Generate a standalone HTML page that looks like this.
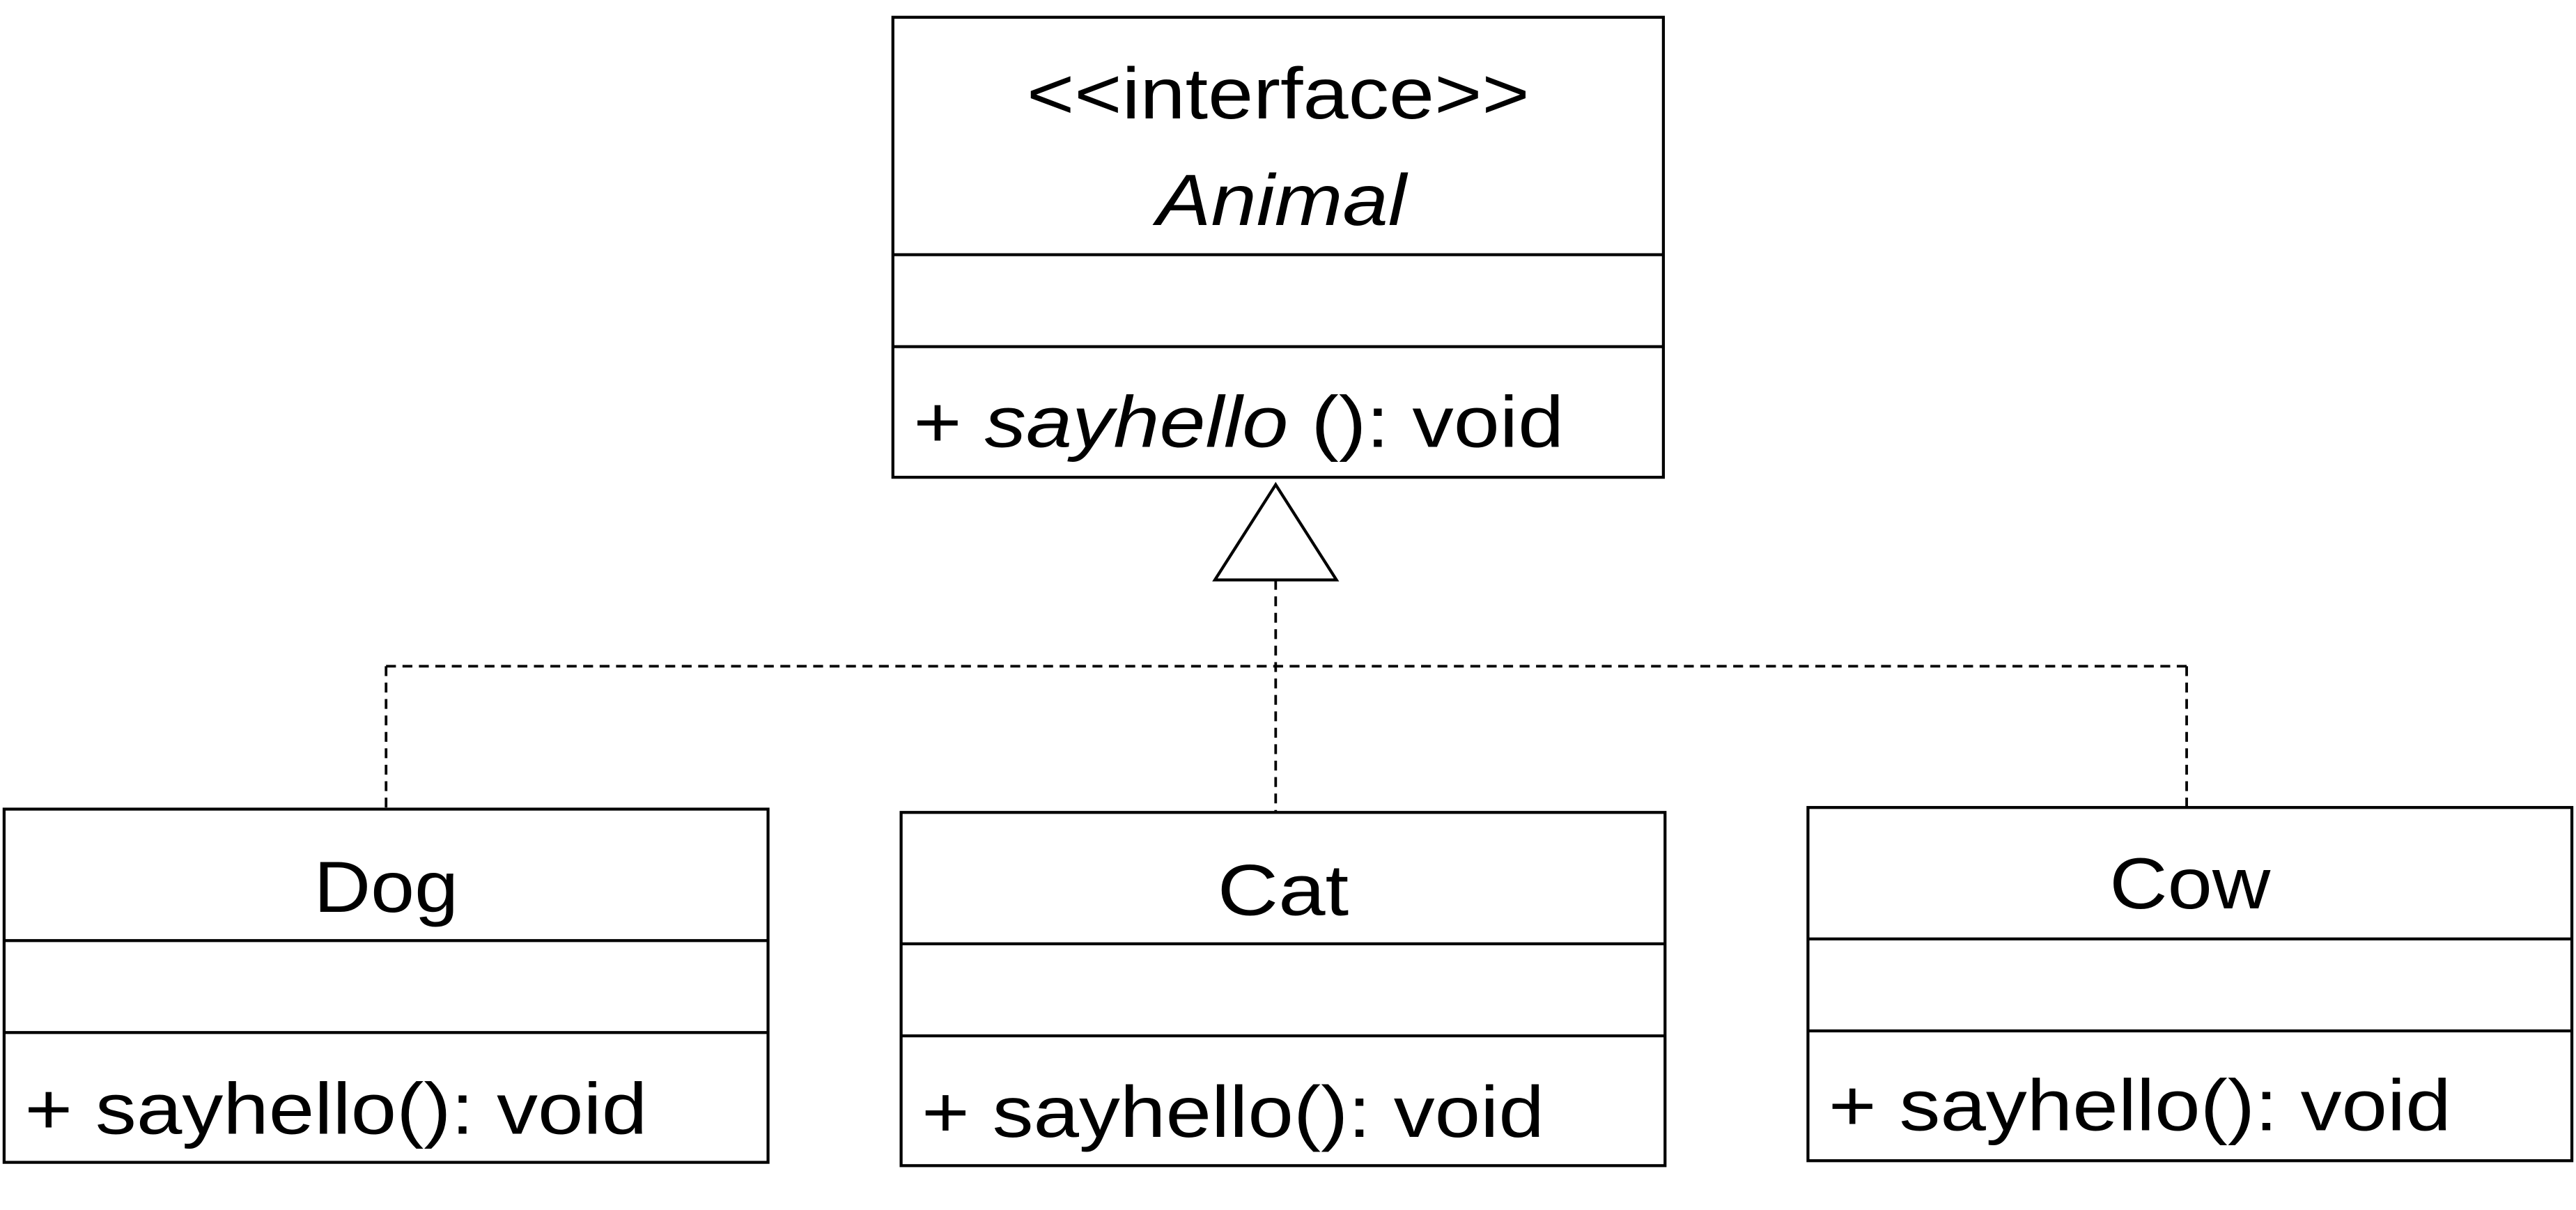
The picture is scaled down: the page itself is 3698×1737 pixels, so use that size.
<!DOCTYPE html>
<html><head><meta charset="utf-8"><style>
html,body{margin:0;padding:0;background:#fff;}
svg{display:block;}
text{font-family:"Liberation Sans","Noto Sans CJK JP",sans-serif;fill:#000;}
</style></head><body>
<svg width="3698" height="1737" viewBox="0 0 1568 736.5" xmlns="http://www.w3.org/2000/svg">
<g fill="none" stroke="#000" stroke-width="1.8">
<rect x="543.5" y="10.5" width="469" height="280"/>
<line x1="543.5" y1="155" x2="1012.5" y2="155"/>
<line x1="543.5" y1="211" x2="1012.5" y2="211"/>
<rect x="2.5" y="492.5" width="465" height="215"/>
<line x1="2.5" y1="572.5" x2="467.5" y2="572.5"/>
<line x1="2.5" y1="628.5" x2="467.5" y2="628.5"/>
<rect x="548.5" y="494.5" width="465" height="215"/>
<line x1="548.5" y1="574.5" x2="1013.5" y2="574.5"/>
<line x1="548.5" y1="630.5" x2="1013.5" y2="630.5"/>
<rect x="1100.5" y="491.5" width="465" height="215"/>
<line x1="1100.5" y1="571.5" x2="1565.5" y2="571.5"/>
<line x1="1100.5" y1="627.5" x2="1565.5" y2="627.5"/>
<polygon points="776.5,295 739.5,353 813.5,353" fill="#fff"/>
<g stroke-dasharray="6,4" stroke-width="1.6">
<line x1="776.5" y1="353" x2="776.5" y2="494"/>
<line x1="235" y1="405.5" x2="1331" y2="405.5"/>
<line x1="235" y1="405.5" x2="235" y2="492"/>
<line x1="1331" y1="405.5" x2="1331" y2="491"/>
</g>
</g>
<g font-size="44">
<text x="778" y="72" text-anchor="middle" textLength="306" lengthAdjust="spacingAndGlyphs">&lt;&lt;interface&gt;&gt;</text>
<text x="780" y="137" text-anchor="middle" font-style="italic" textLength="152" lengthAdjust="spacingAndGlyphs">Animal</text>
<text x="556" y="272" textLength="396" lengthAdjust="spacingAndGlyphs">+ <tspan font-style="italic">sayhello</tspan> (): void</text>
<text x="235" y="555" text-anchor="middle" textLength="88" lengthAdjust="spacingAndGlyphs">Dog</text>
<text x="781" y="557" text-anchor="middle" textLength="80" lengthAdjust="spacingAndGlyphs">Cat</text>
<text x="1333" y="553" text-anchor="middle" textLength="98" lengthAdjust="spacingAndGlyphs">Cow</text>
<text x="15" y="690" textLength="379" lengthAdjust="spacingAndGlyphs">+ sayhello(): void</text>
<text x="561" y="692" textLength="379" lengthAdjust="spacingAndGlyphs">+ sayhello(): void</text>
<text x="1113" y="688" textLength="379" lengthAdjust="spacingAndGlyphs">+ sayhello(): void</text>
</g>
</svg>
</body></html>
